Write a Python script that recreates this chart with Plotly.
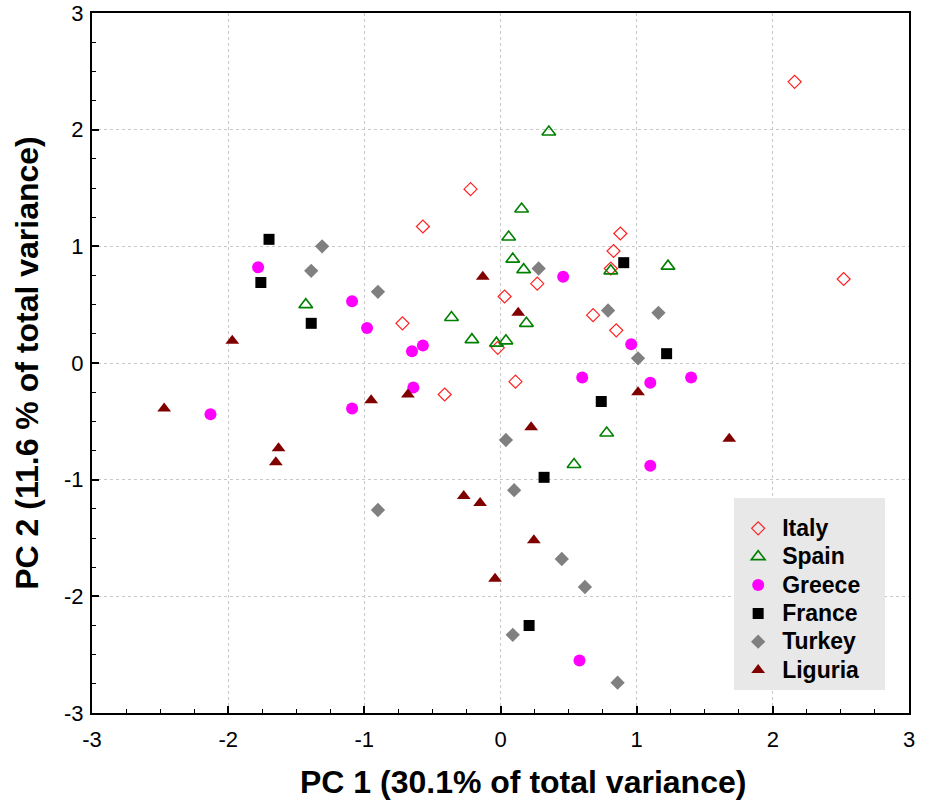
import plotly.graph_objects as go

italy_x = [2.16, 2.52, -0.22, -0.57, 0.88, 0.83, 0.81, 0.27, 0.03, 0.68, 0.85, -0.72, -0.02, -0.41, 0.11]
italy_y = [2.41, 0.72, 1.49, 1.17, 1.11, 0.96, 0.81, 0.68, 0.57, 0.41, 0.28, 0.34, 0.13, -0.27, -0.16]

spain_x = [0.355, 0.155, 0.06, 0.09, 0.17, 0.81, 1.23, -0.36, 0.19, -0.21, -0.03, 0.04, -1.43, 0.78, 0.54]
spain_y = [1.98, 1.32, 1.08, 0.89, 0.80, 0.79, 0.83, 0.39, 0.34, 0.20, 0.17, 0.19, 0.50, -0.60, -0.87]

greece_x = [-1.78, -1.09, -0.98, -0.57, -0.65, 0.46, 0.96, -0.64, 0.60, 1.10, 1.40, 1.10, 0.58, -2.13, -1.09]
greece_y = [0.82, 0.53, 0.30, 0.15, 0.10, 0.74, 0.16, -0.21, -0.125, -0.17, -0.125, -0.88, -2.55, -0.44, -0.39]

france_x = [-1.70, -1.76, -1.39, 0.905, 1.22, 0.74, 0.32, 0.21]
france_y = [1.06, 0.69, 0.34, 0.86, 0.08, -0.33, -0.98, -2.25]

turkey_x = [-1.31, -1.39, -0.90, 0.28, 0.79, 1.16, 1.01, 0.04, 0.10, -0.90, 0.45, 0.62, 0.09, 0.86]
turkey_y = [1.00, 0.79, 0.61, 0.81, 0.45, 0.43, 0.04, -0.66, -1.09, -1.26, -1.68, -1.92, -2.33, -2.74]

liguria_x = [-0.13, 0.13, -1.97, -2.47, -1.63, -1.65, -0.95, -0.68, 1.01, 0.225, -0.27, -0.15, 0.245, -0.04, 1.68]
liguria_y = [0.74, 0.43, 0.19, -0.39, -0.73, -0.85, -0.32, -0.27, -0.25, -0.55, -1.14, -1.20, -1.52, -1.85, -0.65]

tick_vals = [-3, -2, -1, 0, 1, 2, 3]
tick_text = ["-3", "-2", "-1", "0", "1", "2", "3"]

series = [
    ("Italy", italy_x, italy_y, dict(symbol="diamond-open", size=10, color="#ff2020", line=dict(width=1.2, color="#ff2020"))),
    ("Spain", spain_x, spain_y, dict(symbol="triangle-up-open", size=12, color="#008000", line=dict(width=1.6, color="#008000"))),
    ("Greece", greece_x, greece_y, dict(symbol="circle", size=12, color="#ff00ff")),
    ("France", france_x, france_y, dict(symbol="square", size=11, color="#000000")),
    ("Turkey", turkey_x, turkey_y, dict(symbol="diamond", size=11, color="#808080")),
    ("Liguria", liguria_x, liguria_y, dict(symbol="triangle-up", size=12, color="#800000")),
]

fig = go.Figure()
for name, xs, ys, mk in series:
    label = '<span style="font-size:23px"><b>' + name + '</b>&nbsp;&nbsp;&nbsp;</span>'
    fig.add_trace(go.Scatter(x=xs, y=ys, mode="markers", name=label, marker=mk))

FONT = "Liberation Sans, Arial"

axis_common = dict(
    range=[-3, 3],
    tickvals=tick_vals,
    ticktext=tick_text,
    showgrid=True,
    gridcolor="#c8c8c8",
    griddash="dot",
    gridwidth=1,
    zeroline=False,
    showline=True,
    linecolor="black",
    linewidth=2,
    mirror=True,
    ticks="inside",
    ticklen=7,
    tickcolor="black",
    tickwidth=1.5,
    automargin=False,
    minor=dict(dtick=0.25, ticks="inside", ticklen=4, tickcolor="black", tickwidth=1, showgrid=False),
    tickfont=dict(family=FONT, size=22, color="black"),
)

fig.update_xaxes(**axis_common, ticklabelstandoff=6)
fig.update_yaxes(**axis_common, ticklabelstandoff=2,
                 title=dict(text="<b>PC 2 (11.6 % of total variance)</b>",
                            font=dict(family=FONT, size=32, color="black"),
                            standoff=16))

fig.add_annotation(
    text="<b>PC 1 (30.1% of total variance)</b>",
    xref="paper", yref="paper", x=0.527, y=-0.0986,
    xanchor="center", yanchor="middle", showarrow=False,
    font=dict(family=FONT, size=32, color="black"),
)

fig.update_layout(
    width=928,
    height=804,
    margin=dict(l=92, r=19, t=13, b=91),
    plot_bgcolor="white",
    paper_bgcolor="white",
    showlegend=True,
    legend=dict(
        x=0.786, y=0.307, xanchor="left", yanchor="top",
        bgcolor="#e8e8e8",
        borderwidth=0,
        font=dict(family=FONT, size=19.5, color="black"),
        title=dict(text="&nbsp;", font=dict(family=FONT, size=8.5)),
        itemwidth=38,
        tracegroupgap=0,
    ),
)

fig.write_html("out.html")
